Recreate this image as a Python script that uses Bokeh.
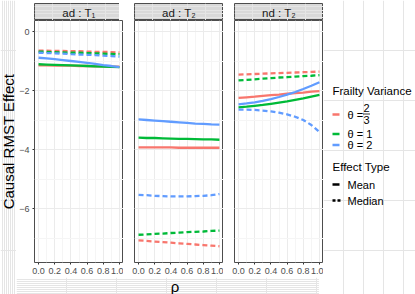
import math
from bokeh.plotting import figure
from bokeh.layouts import row, column
from bokeh.models import Range1d, FixedTicker, Grid, Label, PrintfTickFormatter
from bokeh.core.properties import value
from bokeh.embed import file_html
from bokeh.resources import INLINE

# ---------------- data ----------------
rho = [0.0, 0.1, 0.2, 0.3, 0.4, 0.5, 0.6, 0.7, 0.8, 0.9, 1.0]
panel_labels = ["ad : T\u2081", "ad : T\u2082", "nd : T\u2082"]
theta_names = ["\u03b8 = 2/3", "\u03b8 = 1", "\u03b8 = 2"]
effect_types = ["Mean", "Median"]
x_ticks = [0.0, 0.2, 0.4, 0.6, 0.8, 1.0]
x_minor = [0.1, 0.3, 0.5, 0.7, 0.9]
y_ticks = [-6, -4, -2, 0]
y_minor = [-7, -5, -3, -1]
y_tick_labels = ["\u22126", "\u22124", "\u22122", "0"]

# ad : T1
adT1_mean_t23 = [-1.15, -1.15, -1.16, -1.16, -1.16, -1.17, -1.17, -1.18, -1.18, -1.19, -1.19]
adT1_mean_t1 = [-1.11, -1.12, -1.13, -1.14, -1.15, -1.16, -1.17, -1.18, -1.19, -1.20, -1.21]
adT1_mean_t2 = [-0.89, -0.91, -0.94, -0.97, -1.00, -1.03, -1.06, -1.10, -1.14, -1.17, -1.21]
adT1_median_t23 = [-0.65, -0.65, -0.66, -0.66, -0.67, -0.67, -0.68, -0.69, -0.69, -0.70, -0.71]
adT1_median_t1 = [-0.68, -0.69, -0.70, -0.71, -0.72, -0.72, -0.73, -0.74, -0.75, -0.76, -0.77]
adT1_median_t2 = [-0.72, -0.73, -0.74, -0.75, -0.77, -0.78, -0.79, -0.80, -0.82, -0.83, -0.85]

# ad : T2
adT2_mean_t23 = [-3.93, -3.93, -3.93, -3.93, -3.93, -3.94, -3.94, -3.94, -3.94, -3.94, -3.94]
adT2_mean_t1 = [-3.60, -3.61, -3.61, -3.62, -3.63, -3.64, -3.64, -3.65, -3.66, -3.66, -3.67]
adT2_mean_t2 = [-2.98, -3.00, -3.02, -3.04, -3.06, -3.08, -3.10, -3.12, -3.13, -3.15, -3.16]
adT2_median_t23 = [-7.08, -7.10, -7.12, -7.14, -7.16, -7.18, -7.20, -7.22, -7.24, -7.26, -7.28]
adT2_median_t1 = [-6.89, -6.88, -6.86, -6.85, -6.83, -6.82, -6.80, -6.79, -6.78, -6.76, -6.75]
adT2_median_t2 = [-5.54, -5.55, -5.57, -5.58, -5.59, -5.59, -5.59, -5.58, -5.57, -5.55, -5.51]

# nd : T2
ndT2_mean_t23 = [-2.25, -2.23, -2.21, -2.18, -2.16, -2.14, -2.11, -2.09, -2.07, -2.04, -2.02]
ndT2_mean_t1 = [-2.57, -2.55, -2.52, -2.49, -2.45, -2.41, -2.37, -2.32, -2.27, -2.21, -2.15]
ndT2_mean_t2 = [-2.47, -2.44, -2.40, -2.35, -2.29, -2.22, -2.14, -2.05, -1.95, -1.84, -1.72]
ndT2_median_t23 = [-1.46, -1.45, -1.44, -1.43, -1.42, -1.41, -1.40, -1.39, -1.38, -1.37, -1.36]
ndT2_median_t1 = [-1.66, -1.64, -1.62, -1.60, -1.58, -1.56, -1.55, -1.53, -1.51, -1.50, -1.48]
ndT2_median_t2 = [-2.65, -2.65, -2.66, -2.68, -2.71, -2.75, -2.81, -2.89, -3.00, -3.17, -3.41]

panel_series = [
    [(adT1_mean_t23, adT1_median_t23), (adT1_mean_t1, adT1_median_t1), (adT1_mean_t2, adT1_median_t2)],
    [(adT2_mean_t23, adT2_median_t23), (adT2_mean_t1, adT2_median_t1), (adT2_mean_t2, adT2_median_t2)],
    [(ndT2_mean_t23, ndT2_median_t23), (ndT2_mean_t1, ndT2_median_t1), (ndT2_mean_t2, ndT2_median_t2)],
]

# ---------------- layout / styles ----------------
COLORS = ["#F8766D", "#00BA38", "#619CFF"]
DASHES = ["solid", "5 3"]
FONT = "Liberation Sans"
FW = 89            # panel frame width (px)
FH = 242           # panel frame height (px)
STRIP_TOP = 3
STRIP_H = 17
BOTTOM = 15        # tick + tick labels under each panel
XLAB_H = 17
TOTAL_H = STRIP_TOP + STRIP_H + FH + BOTTOM + XLAB_H
YLAB_W = 16
LEFT1 = 14         # tick labels of first panel
GAP = 11
LEG_W = 95
PX_PER_UNIT = 29.5
Y_RANGE = (-231 / PX_PER_UNIT, 11 / PX_PER_UNIT)
X_RANGE = (-0.05, 1.05)
BORDER = "#4D4D4D"
PANELS_W = LEFT1 + FW + 2 * (GAP + FW)


def make_panel(i):
    first = i == 0
    p = figure(frame_width=FW, frame_height=FH,
               x_range=Range1d(*X_RANGE), y_range=Range1d(*Y_RANGE),
               output_backend="svg", toolbar_location=None,
               y_axis_location="left" if first else None,
               min_border_left=LEFT1 if first else GAP, min_border_right=0,
               min_border_top=0, min_border_bottom=BOTTOM)
    p.outline_line_color = BORDER
    p.outline_line_width = 1
    xt = FixedTicker(ticks=x_ticks, minor_ticks=x_minor)
    yt = FixedTicker(ticks=y_ticks, minor_ticks=y_minor)
    p.xaxis.ticker = xt
    p.xgrid.ticker = xt
    if first:
        p.yaxis.ticker = yt
        p.ygrid.ticker = yt
        ygrid = p.ygrid[0]
    else:
        ygrid = Grid(dimension=1, ticker=yt)
        p.add_layout(ygrid)
    for g in [p.xgrid[0], ygrid]:
        g.grid_line_color = "#EBEBEB"
        g.grid_line_width = 1
        g.minor_grid_line_color = "#F5F5F5"
        g.minor_grid_line_width = 1
    axes = [p.xaxis[0]] + ([p.yaxis[0]] if first else [])
    for ax in axes:
        ax.axis_line_color = None
        ax.major_tick_line_color = "#333333"
        ax.major_tick_out = 2
        ax.major_tick_in = 0
        ax.minor_tick_line_color = None
        ax.major_label_text_font = FONT
        ax.major_label_text_font_size = "9px"
        ax.major_label_text_color = "#4D4D4D"
        ax.major_label_standoff = 1
    p.xaxis.formatter = PrintfTickFormatter(format="%.1f")
    if first:
        p.yaxis.major_label_overrides = dict(zip(y_ticks, y_tick_labels))
    for k, (mean_vals, median_vals) in enumerate(panel_series[i]):
        p.line(rho, mean_vals, line_color=COLORS[k], line_width=2.3, line_dash=DASHES[0])
        p.line(rho, median_vals, line_color=COLORS[k], line_width=2.3, line_dash=DASHES[1])
    return p


def make_strip(i):
    s = figure(frame_width=FW, frame_height=STRIP_H,
               x_range=Range1d(0, 1), y_range=Range1d(0, 1),
               output_backend="svg", toolbar_location=None,
               x_axis_location=None, y_axis_location=None,
               min_border_left=LEFT1 if i == 0 else GAP, min_border_right=0,
               min_border_top=STRIP_TOP, min_border_bottom=0)
    s.background_fill_color = "#D9D9D9"
    s.outline_line_color = BORDER
    s.add_layout(Label(x=0.5, y=0.45, text=panel_labels[i], text_align="center",
                       text_baseline="middle", text_font=FONT, text_font_size="11.5px",
                       text_color="#1A1A1A"))
    return s


# y-axis title (own narrow canvas)
ylab = figure(width=YLAB_W, height=TOTAL_H, x_range=Range1d(0, YLAB_W), y_range=Range1d(TOTAL_H, 0),
              output_backend="svg", toolbar_location=None,
              x_axis_location=None, y_axis_location=None, min_border=0)
ylab.outline_line_color = None
ylab.add_layout(Label(x=YLAB_W / 2, y=STRIP_TOP + STRIP_H + FH / 2, text="Causal RMST Effect",
                      angle=math.pi / 2, text_align="center", text_baseline="middle", text_font=FONT,
                      text_font_size="15px", text_color="#000000"))

# x-axis title (own canvas under the panels)
xlab = figure(width=PANELS_W, height=XLAB_H, x_range=Range1d(0, PANELS_W), y_range=Range1d(XLAB_H, 0),
              output_backend="svg", toolbar_location=None,
              x_axis_location=None, y_axis_location=None, min_border=0)
xlab.outline_line_color = None
xlab.add_layout(Label(x=LEFT1 + (2 * GAP + 3 * FW) / 2, y=XLAB_H / 2, text="\u03c1",
                      text_align="center", text_baseline="middle", text_font=FONT,
                      text_font_size="15px", text_color="#000000"))

# legend (drawn in its own pixel-space figure)
leg = figure(width=LEG_W, height=TOTAL_H, x_range=Range1d(0, LEG_W), y_range=Range1d(TOTAL_H, 0),
             output_backend="svg", toolbar_location=None,
             x_axis_location=None, y_axis_location=None, min_border=0)
leg.outline_line_color = None
KX0, KX1, TX = 9, 16, 24
key_y = [114, 133.5, 144.5]
leg.text(x=[KX0], y=[90], text=["Frailty Variance"], text_font=value(FONT), text_font_size="11.5px",
         text_baseline="middle", text_color="#000000")
leg.segment(x0=[KX0] * 3, x1=[KX1] * 3, y0=key_y, y1=key_y, line_color=COLORS, line_width=2.5)
leg.text(x=[TX], y=[key_y[0]], text=["\u03b8 ="], text_font=value(FONT), text_font_size="11px",
         text_baseline="middle", text_color="#000000")
leg.text(x=[43, 43], y=[107.5, 119.5], text=["2", "3"], text_font=value(FONT), text_font_size="11px",
         text_baseline="middle", text_align="center", text_color="#000000")
leg.segment(x0=[39.5], x1=[46.5], y0=[113.5], y1=[113.5], line_color="#000000", line_width=0.8)
leg.text(x=[TX, TX], y=key_y[1:], text=["\u03b8 = 1", "\u03b8 = 2"], text_font=value(FONT),
         text_font_size="11px", text_baseline="middle", text_color="#000000")
leg.text(x=[KX0], y=[166], text=["Effect Type"], text_font=value(FONT), text_font_size="11.5px",
         text_baseline="middle", text_color="#000000")
type_y = [184, 200]
leg.segment(x0=[KX0], x1=[KX1], y0=[type_y[0]], y1=[type_y[0]], line_color="#000000", line_width=2.5)
leg.segment(x0=[KX0], x1=[KX1 + 1], y0=[type_y[1]], y1=[type_y[1]], line_color="#000000", line_width=2.5,
            line_dash="3 2")
leg.text(x=[TX, TX], y=type_y, text=effect_types, text_font=value(FONT), text_font_size="11px",
         text_baseline="middle", text_color="#000000")

cols = [column(make_strip(i), make_panel(i), spacing=0) for i in range(3)]
middle = column(row(*cols, spacing=0), xlab, spacing=0)
layout = row(ylab, middle, leg, spacing=0)

open("out.html", "w").write(file_html(layout, INLINE))
